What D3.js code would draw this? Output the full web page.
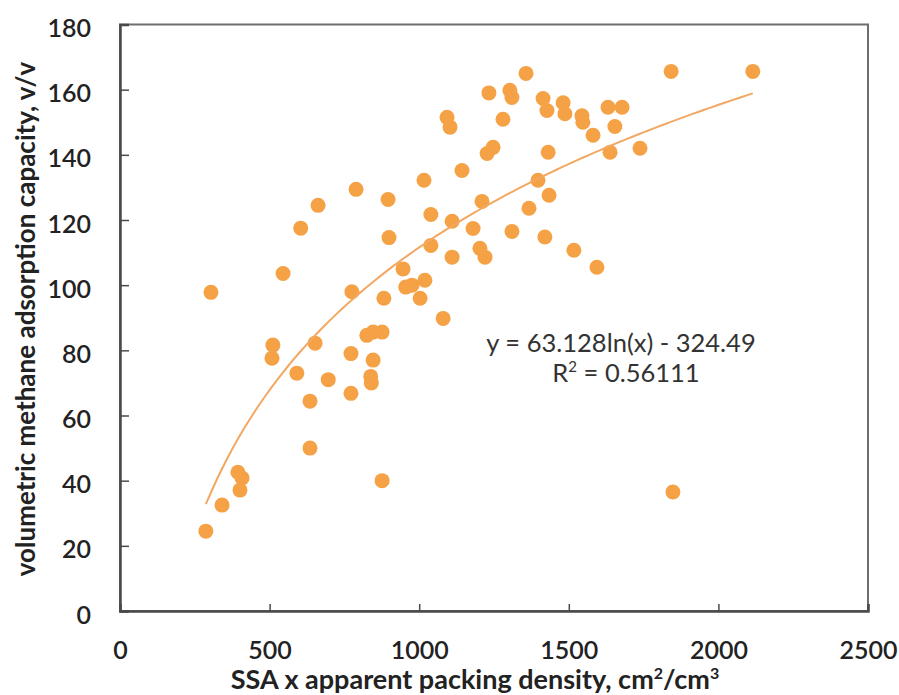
<!DOCTYPE html>
<html>
<head>
<meta charset="utf-8">
<script src="https://cdn.jsdelivr.net/npm/d3@7"></script>
<style>
  body { margin: 0; background: #fff; }
  svg { display: block; }
  text { font-family: Lato, "Open Sans", sans-serif; }
</style>
</head>
<body>
<div id="chart"></div>
<script>
// packing density * SSA (cm2/cm3) vs volumetric methane capacity (v/v)
const ssaDensity = [287, 341, 394, 408, 401, 304, 508, 511, 545, 591, 604, 635, 635, 652, 662, 696,
  772, 772, 775, 789, 825, 846, 876, 846, 838, 840, 876, 882, 899, 896, 946, 955, 976, 1003, 1019,
  1016, 1039, 1039, 1080, 1093, 1103, 1110, 1110, 1143, 1180, 1203, 1220, 1210, 1227, 1247, 1233,
  1280, 1303, 1310, 1310, 1357, 1367, 1397, 1414, 1427, 1420, 1431, 1434, 1481, 1487, 1517, 1544,
  1547, 1581, 1594, 1631, 1678, 1654, 1638, 1738, 1842, 2115, 1848]
const methaneVv = [24.5, 32.5, 42.6, 40.8, 37.1, 97.8, 77.6, 81.6, 103.6, 73, 117.5, 64.4, 50, 82.2, 124.5, 71,
  79, 66.8, 98, 129.4, 84.6, 85.6, 85.6, 77, 72, 70, 40, 96, 114.6, 126.3, 105, 99.4, 100, 96, 101.5,
  132.2, 121.7, 112.2, 89.8, 151.5, 148.5, 108.6, 119.6, 135.2, 117.4, 111.3, 108.6, 125.7, 140.4, 142.3, 159,
  150.9, 159.8, 157.6, 116.5, 165, 123.6, 132.2, 157.3, 153.6, 114.8, 140.8, 127.6, 156, 152.6, 110.7, 152,
  150, 146, 105.5, 154.6, 154.6, 148.7, 140.8, 142, 165.6, 165.6, 36.5]

const xTicks = [0, 500, 1000, 1500, 2000, 2500]
const yTicks = [0, 20, 40, 60, 80, 100, 120, 140, 160, 180]

// log trendline reported on the chart
const fitA = 63.128
const fitB = -324.49
const fitR2 = 0.56111

const W = 899, H = 695
const plotL = 120, plotR = 868, plotT = 24.5, plotB = 611

const svg = d3.select('#chart').append('svg')
  .attr('width', W)
  .attr('height', H)

const x = d3.scaleLinear().domain([0, 2500]).range([plotL, plotR])
const y = d3.scaleLinear().domain([0, 180]).range([plotB, plotT])

const points = ssaDensity.map((d, i) => ({ x: d, y: methaneVv[i] }))

// frame
svg.append('rect')
  .attr('x', plotL).attr('y', plotT)
  .attr('width', plotR - plotL).attr('height', plotB - plotT)
  .attr('fill', 'none')
  .attr('stroke', '#6e6e6e')
  .attr('stroke-width', 2)

const yAxis = svg.append('g')
  .attr('transform', `translate(${plotL},0)`)
  .call(d3.axisLeft(y).tickValues(yTicks).tickSize(-9).tickPadding(29).tickFormat(d3.format('d')))

const xAxis = svg.append('g')
  .attr('transform', `translate(0,${plotB})`)
  .call(d3.axisBottom(x).tickValues(xTicks).tickSize(-7).tickPadding(30).tickFormat(d3.format('d')))

;[yAxis, xAxis].forEach(g => {
  g.select('.domain').attr('stroke', '#4a4a4a').attr('stroke-width', 2.5)
  g.selectAll('.tick line').attr('stroke', '#4a4a4a').attr('stroke-width', 1.5)
  g.selectAll('.tick text')
    .attr('fill', '#222')
    .style('font-size', '25px')
    .style('font-weight', '600')
})
yAxis.selectAll('.tick text').attr('dy', '0.48em')

// points
svg.append('g')
  .selectAll('circle')
  .data(points)
  .join('circle')
  .attr('cx', d => x(d.x))
  .attr('cy', d => y(d.y))
  .attr('r', 7.5)
  .attr('fill', '#f5a246')

// trendline
const xMin = d3.min(ssaDensity), xMax = d3.max(ssaDensity)
const fitPts = d3.range(0, 101).map(k => {
  let xv = xMin + (xMax - xMin) * k / 100
  return { x: xv, y: fitA * Math.log(xv) + fitB }
})

svg.append('path')
  .datum(fitPts)
  .attr('fill', 'none')
  .attr('stroke', '#f2a862')
  .attr('stroke-width', 2)
  .attr('d', d3.line().x(d => x(d.x)).y(d => y(d.y)))

// equation label
const eq = svg.append('g').attr('fill', '#333')
eq.append('text')
  .attr('x', 621).attr('y', 352)
  .attr('text-anchor', 'middle')
  .style('font-size', '25.5px')
  .text(`y = ${fitA}ln(x) - ${Math.abs(fitB)}`)
const r2 = eq.append('text')
  .attr('x', 626).attr('y', 382)
  .attr('text-anchor', 'middle')
  .style('font-size', '25.5px')
r2.append('tspan').text('R')
r2.append('tspan').attr('dy', -10).style('font-size', '15px').text('2')
r2.append('tspan').attr('dy', 10).text(` = ${fitR2}`)

// axis titles
svg.append('text')
  .attr('x', 475)
  .attr('y', 689)
  .attr('text-anchor', 'middle')
  .attr('fill', '#222')
  .style('font-size', '27px')
  .style('font-weight', '700')
  .html('SSA x apparent packing density, cm<tspan dy="-10" font-size="16px">2</tspan><tspan dy="10">/cm</tspan><tspan dy="-10" font-size="16px">3</tspan>')

svg.append('text')
  .attr('transform', `translate(35,319) rotate(-90)`)
  .attr('text-anchor', 'middle')
  .attr('fill', '#222')
  .style('font-size', '26px')
  .style('font-weight', '700')
  .text('volumetric methane adsorption capacity, v/v')
</script>
</body>
</html>
